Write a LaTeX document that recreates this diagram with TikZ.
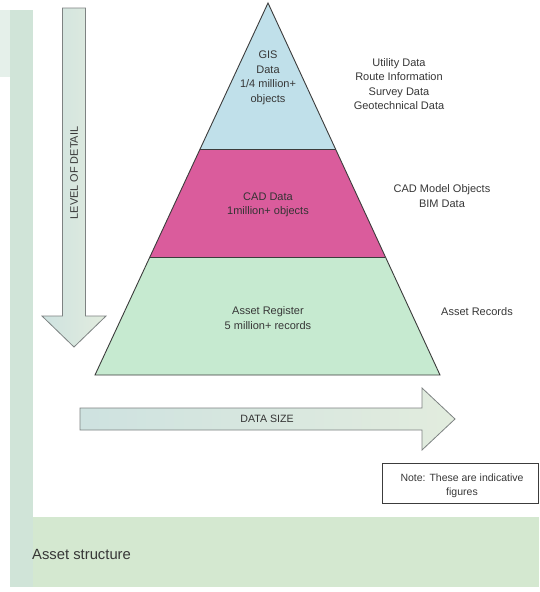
\documentclass[tikz,border=0pt]{standalone}
\usepackage{fontspec}
\setmainfont{Liberation Sans}
\usetikzlibrary{calc}
\definecolor{framegreen}{RGB}{208,228,216}
\definecolor{framegreenb}{RGB}{212,232,208}
\definecolor{gisblue}{RGB}{192,224,234}
\definecolor{cadpink}{RGB}{218,92,156}
\definecolor{assetgreen}{RGB}{198,234,208}
\definecolor{txtgray}{RGB}{55,55,55}
\definecolor{edgegray}{RGB}{60,60,60}
\definecolor{arrowedge}{RGB}{125,130,130}
\definecolor{arrowa}{RGB}{206,226,224}
\definecolor{arrowb}{RGB}{226,236,222}
\tikzset{
  lbl/.style={text=txtgray, align=center, font=\fontsize{11}{14.5}\selectfont, inner sep=0pt},
  arrowshape/.style={draw=arrowedge, line width=0.8pt, line join=miter},
  pyredge/.style={draw=edgegray, line width=0.9pt, line join=miter}
}
\begin{document}
\begin{tikzpicture}[x=1pt,y=-1pt]
\useasboundingbox (0,0) rectangle (539,592);
\fill[white] (0,0) rectangle (539,592);
% background frame
\fill[framegreen!55!white] (0,10) rectangle (33,77);
\fill[framegreen] (10,10) rectangle (33,587);
\fill[framegreenb] (10,517) rectangle (539,587);
\fill[framegreen] (10,517) rectangle (33,587);
\node[lbl, anchor=base west, font=\fontsize{14.8}{17}\selectfont, text=txtgray] (title) at (32,559) {Asset structure};

% level of detail arrow
\path[arrowshape, left color=arrowa, right color=arrowb]
  (62.5,8) -- (85.5,8) -- (85.5,316) -- (106,316) -- (74,347) -- (42,316) -- (62.5,316) -- cycle;
\node[lbl, rotate=90, font=\fontsize{10.9}{13}\selectfont] (lod) at (74,173) {LEVEL OF DETAIL};

% data size arrow
\path[arrowshape, left color=arrowa, right color=arrowb]
  (80,408) -- (422,408) -- (422,388) -- (455,419) -- (422,450) -- (422,430) -- (80,430) -- cycle;
\node[lbl, text=black!80, font=\fontsize{10.6}{13}\selectfont] (ds) at (267,419) {DATA SIZE};

% pyramid
\coordinate (A) at (268,3);
\coordinate (BL) at (95,375);
\coordinate (BR) at (440,375);
\coordinate (L1) at ($(A)!0.3925!(BL)$);
\coordinate (R1) at ($(A)!0.3925!(BR)$);
\coordinate (L2) at ($(A)!0.6828!(BL)$);
\coordinate (R2) at ($(A)!0.6828!(BR)$);
\fill[gisblue] (A) -- (R1) -- (L1) -- cycle;
\fill[cadpink] (L1) -- (R1) -- (R2) -- (L2) -- cycle;
\fill[assetgreen] (L2) -- (R2) -- (BR) -- (BL) -- cycle;
\draw[pyredge] (A) -- (BR) -- (BL) -- cycle;
\draw[pyredge] (L1) -- (R1);
\draw[pyredge] (L2) -- (R2);

\node[lbl] (gis) at (268,78) {GIS\\Data\\1/4 million+\\objects};
\node[lbl, text=black!80] (cad) at (268,205) {CAD Data\\1million+ objects};
\node[lbl] (asset) at (268,318) {Asset Register\\5 million+ records};

% right labels
\node[lbl] (gisr) at (399,84) {Utility Data\\Route Information\\Survey Data\\Geotechnical Data};
\node[lbl] (cadr) at (442,196) {CAD Model Objects\\BIM Data};
\node[lbl] (assetr) at (477,312) {Asset Records};

% note
\draw[draw=edgegray, line width=0.8pt] (382,463) rectangle (538,503);
\node[lbl, font=\fontsize{10.5}{13.5}\selectfont] (note) at (462,486) {Note: These are indicative\\figures};
\end{tikzpicture}
\end{document}
